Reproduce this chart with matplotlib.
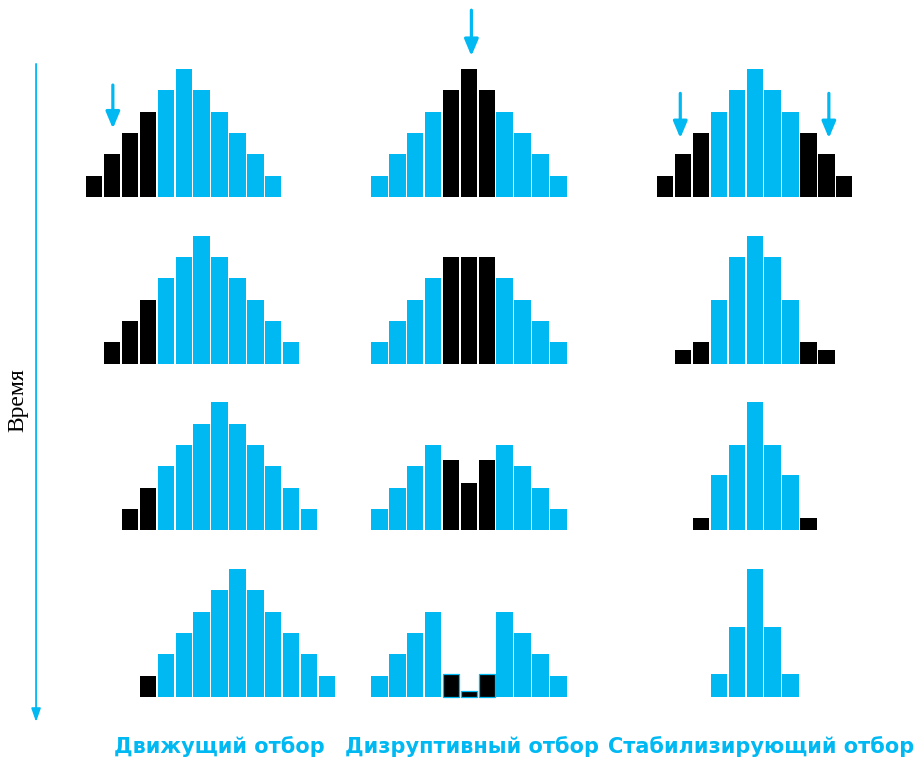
import numpy as np
import matplotlib
matplotlib.use('Agg')
import matplotlib.pyplot as plt

# bar heights, one list per row (top to bottom), in "individuals" units
moving = [
    [1, 2, 3, 4, 5, 6, 5, 4, 3, 2, 1],
    [1, 2, 3, 4, 5, 6, 5, 4, 3, 2, 1],
    [1, 2, 3, 4, 5, 6, 5, 4, 3, 2, 1],
    [1, 2, 3, 4, 5, 6, 5, 4, 3, 2, 1],
]
moving_start = [0, 1, 2, 3]
moving_black = [[0, 1, 2, 3], [0, 1, 2], [0, 1], [0]]

disruptive = [
    [1, 2, 3, 4, 5, 6, 5, 4, 3, 2, 1],
    [1, 2, 3, 4, 5, 5, 5, 4, 3, 2, 1],
    [1, 2, 3, 4, 3.3, 2.2, 3.3, 4, 3, 2, 1],
    [1, 2, 3, 4, 1.1, 0.3, 1.1, 4, 3, 2, 1],
]
disruptive_start = [0, 0, 0, 0]
disruptive_black = [[4, 5, 6], [4, 5, 6], [4, 5, 6], [4, 5, 6]]

stabilizing = [
    [1, 2, 3, 4, 5, 6, 5, 4, 3, 2, 1],
    [0.65, 1, 3, 5, 6, 5, 3, 1, 0.65],
    [0.6, 2.6, 4, 6, 4, 2.6, 0.6],
    [1.1, 3.3, 6, 3.3, 1.1],
]
stabilizing_start = [0, 1, 2, 3]
stabilizing_black = [[0, 1, 2, 8, 9, 10], [0, 1, 7, 8], [0, 6], []]

titles = ['Движущий отбор', 'Дизруптивный отбор', 'Стабилизирующий отбор']
time_label = 'Время'

CYAN = '#00b9f2'

# layout (units: bar pitch horizontally, one height step vertically)
W, H = 917, 759
px_x = 17.9
px_y = 21.33
x0_px, y0_px = 86, 697
col_x = [0, 15.93, 31.9]
row_base = [23.44, 15.63, 7.81, 0]

fig = plt.figure(figsize=(W / 100, H / 100), dpi=100)
ax = fig.add_axes([0, 0, 1, 1])
ax.set_xlim(-x0_px / px_x, (W - x0_px) / px_x)
ax.set_ylim(-(H - y0_px) / px_y, y0_px / px_y)
ax.axis('off')

panels = [(moving, moving_start, moving_black),
          (disruptive, disruptive_start, disruptive_black),
          (stabilizing, stabilizing_start, stabilizing_black)]

for c, (rows, starts, blacks) in enumerate(panels):
    for r, heights in enumerate(rows):
        xs = col_x[c] + starts[r] + np.arange(len(heights))
        colors = ['black' if i in blacks[r] else CYAN for i in range(len(heights))]
        # last row of the disruptive panel: small black bars get a cyan rim
        rim = 0.9 if (c == 1 and r == 3) else 0
        lws = [rim if col == 'black' else 0 for col in colors]
        ax.bar(xs, heights, width=0.92, bottom=row_base[r], align='edge',
               color=colors, edgecolor=CYAN, linewidth=lws)

# selection arrows
arrows = [(1.5, 28.69, 26.65), (col_x[1] + 5.6, 32.2, 30.05),
          (col_x[2] + 1.3, 28.3, 26.2), (col_x[2] + 9.6, 28.3, 26.2)]
for x, y1, y2 in arrows:
    ax.annotate('', xy=(x, y2), xytext=(x, y1),
                arrowprops=dict(arrowstyle='-|>,head_width=0.42,head_length=1.0',
                                color=CYAN, lw=2.3, shrinkA=0, shrinkB=0))

# time axis
ax.annotate('', xy=(-2.79, -1.17), xytext=(-2.79, 29.68),
            arrowprops=dict(arrowstyle='-|>,head_width=0.28,head_length=0.8',
                            color=CYAN, lw=1.3, shrinkA=0, shrinkB=0))
ax.text(-3.8, 13.9, time_label, rotation=90, ha='center', va='center',
        fontsize=17, family=['Liberation Serif', 'DejaVu Serif'])

title_x = [7.46, 21.56, 37.7]
for tx, t in zip(title_x, titles):
    ax.text(tx, -2.3, t, ha='center', va='center', color=CYAN, fontsize=15,
            fontweight='bold', family=['Liberation Sans Narrow', 'DejaVu Sans'])

fig.savefig('out.png', dpi=100)
